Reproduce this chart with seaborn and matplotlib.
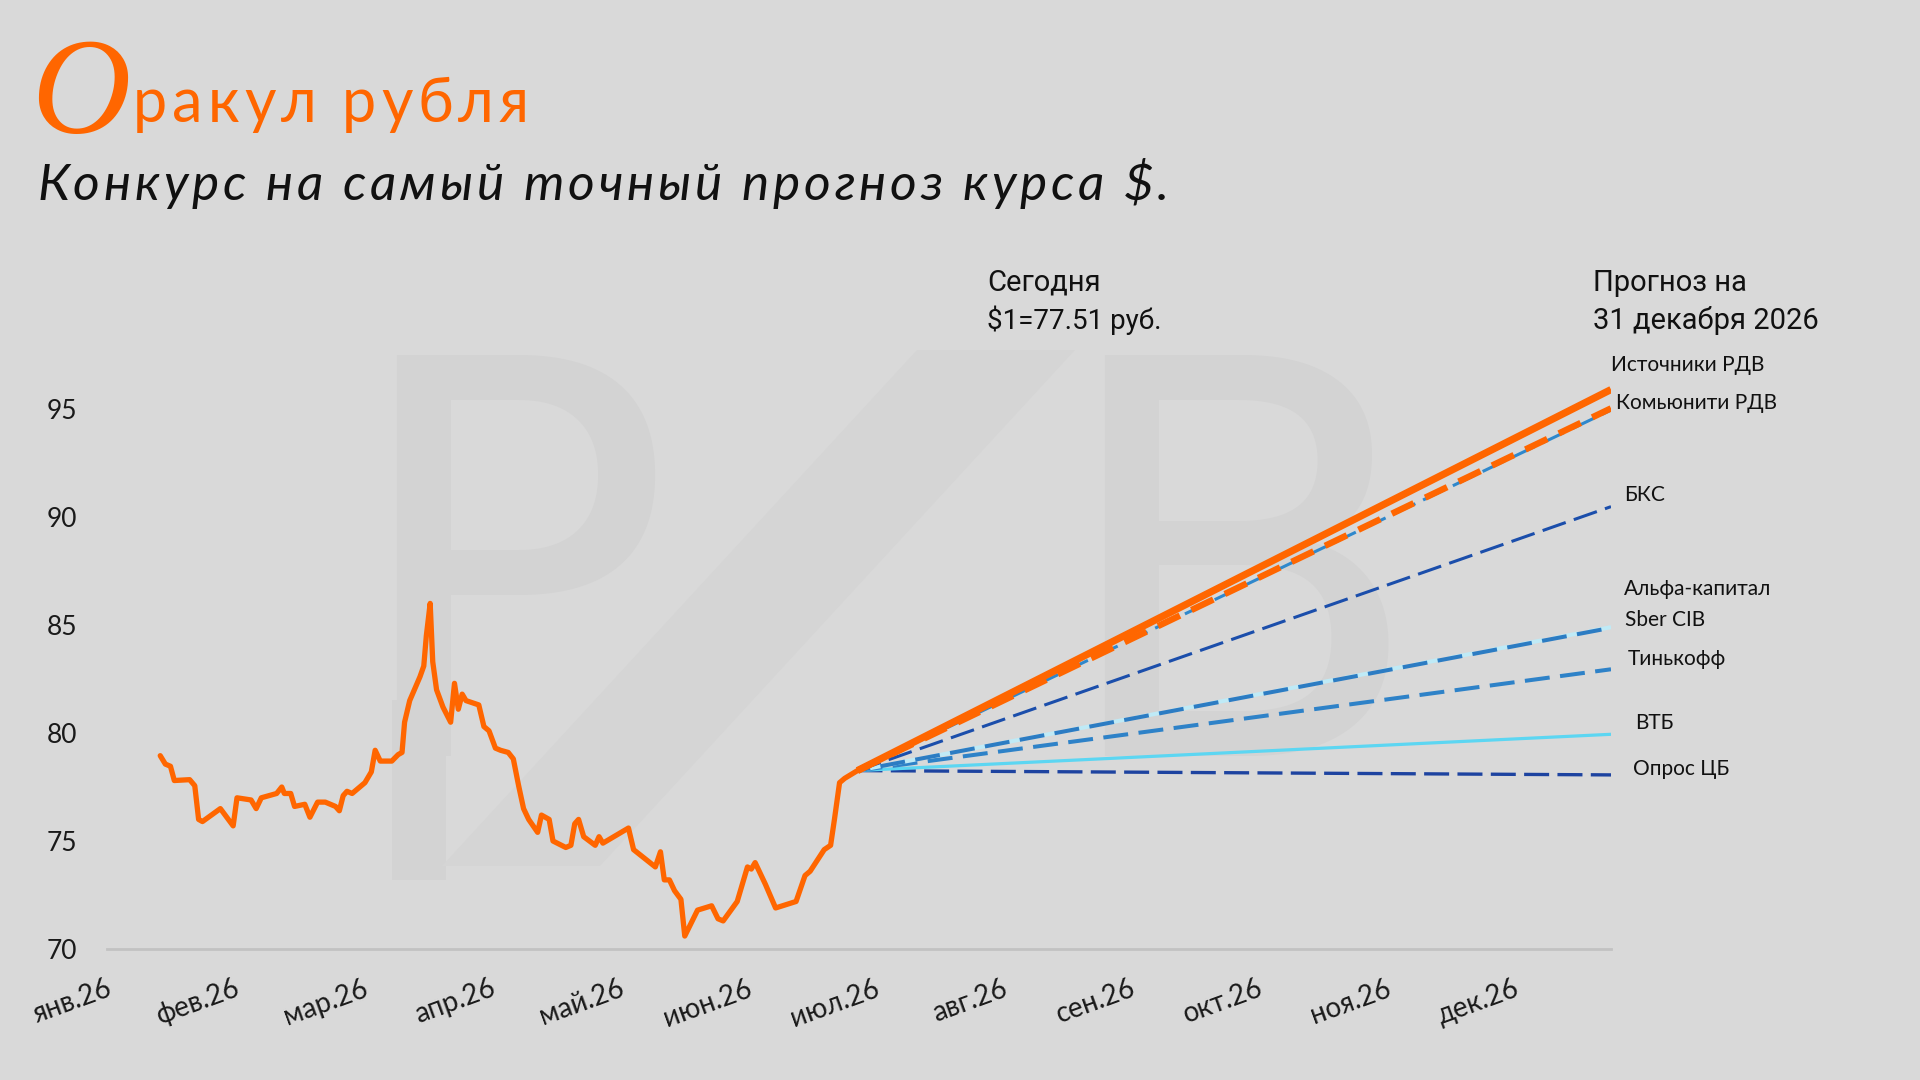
import matplotlib
matplotlib.use("Agg")
import matplotlib.pyplot as plt
import seaborn as sns
import pandas as pd
from matplotlib.patches import Polygon, Rectangle

# ---------------- data ----------------
months = ["янв.26", "фев.26", "мар.26", "апр.26", "май.26", "июн.26",
          "июл.26", "авг.26", "сен.26", "окт.26", "ноя.26", "дек.26"]

# historical USD/RUB (x in months since 1 Jan)
hist_t = [0.42, 0.46, 0.50, 0.53, 0.65, 0.69, 0.72, 0.75, 0.89, 0.99, 1.02, 1.13,
          1.17, 1.21, 1.33, 1.37, 1.39, 1.44, 1.47, 1.55, 1.59, 1.65, 1.71, 1.79,
          1.82, 1.85, 1.88, 1.92, 2.02, 2.07, 2.10, 2.14, 2.23, 2.28, 2.31, 2.33,
          2.37, 2.45, 2.48, 2.50, 2.53, 2.55, 2.58, 2.63, 2.69, 2.72, 2.75, 2.78,
          2.81, 2.91, 2.95, 2.99, 3.04, 3.08, 3.14, 3.18, 3.22, 3.26, 3.30, 3.37,
          3.40, 3.46, 3.49, 3.59, 3.63, 3.66, 3.69, 3.73, 3.82, 3.85, 3.88, 4.08,
          4.12, 4.29, 4.33, 4.36, 4.40, 4.44, 4.49, 4.52, 4.57, 4.62, 4.73, 4.78,
          4.82, 4.93, 5.01, 5.04, 5.07, 5.15, 5.23, 5.39, 5.46, 5.50, 5.61, 5.66,
          5.69, 5.73, 5.77, 5.87]
hist_v = [78.95, 78.56, 78.46, 77.80, 77.84, 77.56, 76.00, 75.90, 76.50, 75.70, 77.00, 76.90,
          76.50, 77.00, 77.20, 77.50, 77.20, 77.20, 76.60, 76.70, 76.10, 76.80, 76.80, 76.60,
          76.40, 77.10, 77.30, 77.20, 77.70, 78.20, 79.20, 78.70, 78.70, 79.00, 79.10, 80.50,
          81.50, 82.60, 83.10, 84.50, 86.00, 83.30, 82.00, 81.20, 80.50, 82.30, 81.10, 81.80,
          81.50, 81.30, 80.30, 80.10, 79.30, 79.20, 79.10, 78.80, 77.60, 76.50, 76.00, 75.40,
          76.20, 76.00, 75.00, 74.70, 74.80, 75.80, 76.00, 75.20, 74.80, 75.20, 74.90, 75.60,
          74.60, 73.80, 74.50, 73.20, 73.20, 72.70, 72.30, 70.60, 71.20, 71.80, 72.00, 71.40,
          71.30, 72.20, 73.80, 73.70, 74.00, 73.00, 71.90, 72.20, 73.40, 73.60, 74.60, 74.80,
          76.00, 77.70, 77.90, 78.26]

# forecasts: from today to 31 Dec
today_t = 5.87
today_v = 78.26
end_t = 11.76
forecast_names = ["Опрос ЦБ", "ВТБ", "Тинькофф", "Альфа-капитал", "Sber CIB", "БКС",
                  "Прочие", "Комьюнити РДВ", "Источники РДВ"]
forecast_end = [78.06, 79.94, 82.95, 84.90, 84.87, 90.48, 94.95, 95.03, 95.90]
labelled = ["Источники РДВ", "Комьюнити РДВ", "БКС", "Альфа-капитал", "Sber CIB",
            "Тинькофф", "ВТБ", "Опрос ЦБ"]

# ---------------- styles / layout ----------------
BG = "#d9d9d9"
ORANGE = "#ff6600"
styles = {
    "Опрос ЦБ":      dict(color="#1d43a0", lw=2.4, ls=(0, (7.5, 2.5))),
    "ВТБ":           dict(color="#5cd6f2", lw=2.3, ls="-"),
    "Тинькофф":      dict(color="#2e82c8", lw=2.9, ls=(0, (6.2, 2.6))),
    "Альфа-капитал": dict(color="#bfeaf6", lw=2.9, ls=(0, (6.2, 2.6))),
    "Sber CIB":      dict(color="#2c7cc3", lw=2.9, ls=(3, (6.2, 2.6))),
    "БКС":           dict(color="#1b4eab", lw=2.2, ls=(0, (8.0, 2.8))),
    "Прочие":        dict(color="#2f88cc", lw=2.2, ls=(0, (8.0, 2.8))),
    "Комьюнити РДВ": dict(color=ORANGE, lw=4.6, ls=(0, (3.8, 2.0))),
    "Источники РДВ": dict(color=ORANGE, lw=5.2, ls="-"),
}
label_pos = {  # (x, y) in data coords for right-hand labels
    "Источники РДВ": (11.76, 97.04),
    "Комьюнити РДВ": (11.80, 95.28),
    "БКС": (11.86, 91.03),
    "Альфа-капитал": (11.86, 86.67),
    "Sber CIB": (11.87, 85.25),
    "Тинькофф": (11.89, 83.44),
    "ВТБ": (11.95, 80.44),
    "Опрос ЦБ": (11.93, 78.34),
}

sns.set_theme(style="white")
plt.rcParams["font.family"] = ["Lato", "DejaVu Sans"]

W, H = 1920, 1080
fig = plt.figure(figsize=(W / 100, H / 100), dpi=100, facecolor=BG)
renderer = fig.canvas.get_renderer()


def fx(px):
    return px / W


def fy(py):
    return 1 - py / H


def text_width(s, **kw):
    t = fig.text(0, 0, s, **kw)
    w = t.get_window_extent(renderer).width
    t.remove()
    return w


def spaced_text(x_px, y_px, s, target_w, **kw):
    """draw text letter by letter so that it spans target_w pixels"""
    chars = [(i, c) for i, c in enumerate(s) if c != " "]
    natural = text_width(s, **kw)
    gap = (target_w - natural) / max(len(s) - 1, 1)
    for i, c in chars:
        off = text_width(s[:i] + c, **kw) - text_width(c, **kw)
        fig.text(fx(x_px + off + i * gap), fy(y_px), c, va="baseline", ha="left", **kw)


# ---------------- watermark "Р/В" ----------------
wm_color = "#d3d3d3"
wm_font = dict(fontsize=395, color=wm_color, ha="left", va="top",
               family=["DejaVu Sans"], zorder=-2)
fig.text(fx(342), fy(338), "Р", **wm_font)
fig.text(fx(1050), fy(338), "В", **wm_font)
fig.patches.append(Rectangle((fx(392), fy(880)), (446 - 392) / W, (880 - 700) / H,
                             transform=fig.transFigure, color=wm_color, zorder=-2,
                             lw=0))
fig.patches.append(Polygon([(fx(442), fy(866)), (fx(600), fy(866)),
                            (fx(1075), fy(350)), (fx(917), fy(350))],
                           closed=True, transform=fig.transFigure, color="#d5d5d5",
                           zorder=-2, lw=0))

ax = fig.add_axes([fx(106.5), 1 - 949 / H, (1611 - 106.5) / W, (949 - 355) / H])
ax.set_facecolor("none")

# forecast lines
for name, endv in zip(forecast_names, forecast_end):
    st = styles[name]
    df = pd.DataFrame({"t": [today_t, end_t], "v": [today_v, endv]})
    sns.lineplot(data=df, x="t", y="v", ax=ax, color=st["color"], linewidth=st["lw"],
                 linestyle=st["ls"], estimator=None, sort=False,
                 solid_capstyle="butt", dash_capstyle="butt")

# historical line
hist = pd.DataFrame({"t": hist_t, "v": hist_v})
sns.lineplot(data=hist, x="t", y="v", ax=ax, color=ORANGE, linewidth=3.8,
             estimator=None, sort=False)

ax.set_xlim(0, 11.76)
ax.set_ylim(70, 97.5)
ax.set_xlabel("")
ax.set_ylabel("")
for s in ["left", "right", "top"]:
    ax.spines[s].set_visible(False)
ax.spines["bottom"].set_color("#c2c2c2")
ax.spines["bottom"].set_linewidth(2)
ax.spines["bottom"].set_zorder(0.5)

ax.set_yticks([70, 75, 80, 85, 90, 95])
ax.set_yticklabels(["70", "75", "80", "85", "90", "95"])
ax.tick_params(axis="y", length=0, pad=21, labelsize=19, labelcolor="#1a1a1a")

ax.set_xticks(range(12))
ax.set_xticklabels(months, rotation=20, ha="right", rotation_mode="anchor")
ax.tick_params(axis="x", direction="inout", length=16, width=1, color="#c2c2c2",
               pad=11, labelsize=20, labelcolor="#1a1a1a")

# right labels
for name in labelled:
    x, y = label_pos[name]
    ax.text(x, y, name, fontsize=15, color="#111111", ha="left", va="center",
            clip_on=False)

# annotation texts
ann = dict(family=["Roboto", "DejaVu Sans"], color="#111111")
fig.text(fx(987), fy(291), "Сегодня", fontsize=21, **ann)
fig.text(fx(987), fy(329), "$1=77.51 руб.", fontsize=20, **ann)
fig.text(fx(1593), fy(291), "Прогноз на", fontsize=21, **ann)
fig.text(fx(1593), fy(329), "31 декабря 2026", fontsize=21, **ann)

# titles
fig.text(fx(31), fy(133), "О", fontsize=99, family=["Liberation Serif", "DejaVu Serif"],
         style="italic", color=ORANGE)
spaced_text(133, 122, "ракул рубля", 396, fontsize=44,
            family=["Lato", "DejaVu Sans"], color=ORANGE)
spaced_text(37, 200, "Конкурс на самый точный прогноз курса $.", 1132, fontsize=37,
            family=["Lato", "DejaVu Sans"], style="italic", color="#111111")

fig.savefig("out.png", dpi=100, facecolor=BG)
